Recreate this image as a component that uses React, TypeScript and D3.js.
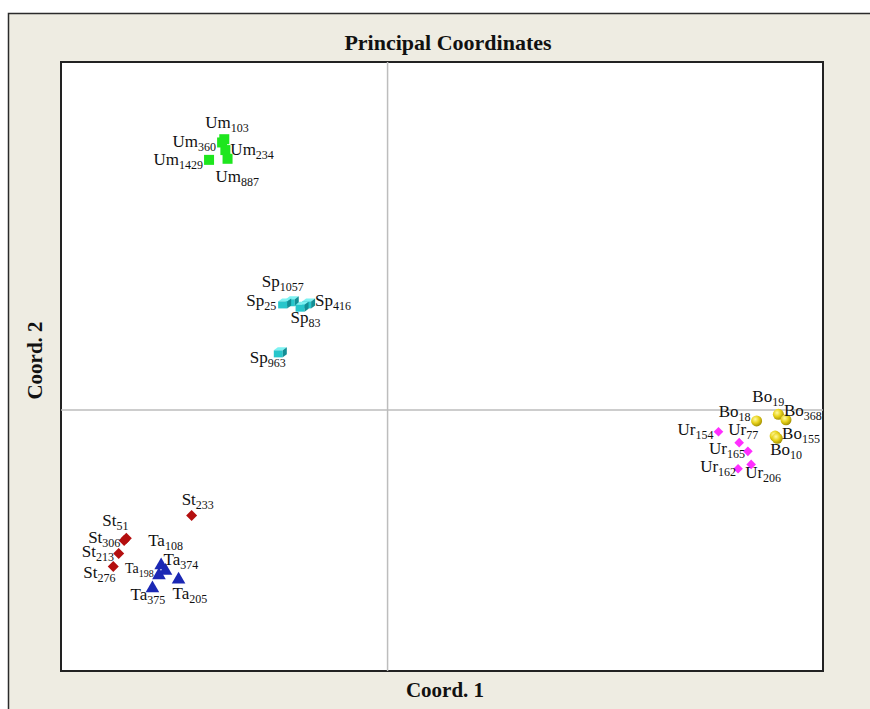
import * as d3 from "d3";

// sample names, in the order they are listed
const sampleNames = [
  "Um103", "Um360", "Um234", "Um1429", "Um887",
  "Sp1057", "Sp25", "Sp416", "Sp83", "Sp963",
  "Bo19", "Bo18", "Bo368", "Bo155", "Bo10",
  "Ur154", "Ur77", "Ur165", "Ur162", "Ur206",
  "St233", "St51", "St306", "St213", "St276",
  "Ta108", "Ta374", "Ta198", "Ta205", "Ta375",
];

// Coord. 1 (x)
const coord1 = [
  -0.150, -0.152, -0.149, -0.164, -0.147,
  -0.088, -0.095, -0.073, -0.079, -0.099,
  0.359, 0.339, 0.366, 0.356, 0.358,
  0.304, 0.323, 0.331, 0.322, 0.334,
  -0.180, -0.240, -0.242, -0.247, -0.252,
  -0.208, -0.204, -0.210, -0.192, -0.216,
];

// Coord. 2 (y)
const coord2 = [
  0.249, 0.246, 0.239, 0.230, 0.231,
  0.100, 0.098, 0.098, 0.095, 0.053,
  -0.004, -0.010, -0.009, -0.024, -0.026,
  -0.020, -0.030, -0.038, -0.054, -0.050,
  -0.097, -0.118, -0.120, -0.132, -0.144,
  -0.142, -0.147, -0.151, -0.155, -0.163,
];

const groups = ["Um", "Sp", "Bo", "Ur", "St", "Ta"];

// label offsets from the marker in px: dx, dy, anchor
const labelPlace: Record<string, [number, number, string]> = {
  Um103: [-19, -11, "start"],
  Um360: [-6, 5, "end"],
  Um234: [5, 5, "start"],
  Um1429: [-6, 5, "end"],
  Um887: [-12, 23, "start"],
  Sp1057: [-30, -14, "start"],
  Sp25: [-8, 3, "end"],
  Sp416: [7, 3, "start"],
  Sp83: [-11, 16, "start"],
  Sp963: [-30, 11, "start"],
  Bo19: [-26, -12, "start"],
  Bo18: [-6, -4, "end"],
  Bo368: [-2, -4, "start"],
  Bo155: [7, 3, "start"],
  Bo10: [-7, 17, "start"],
  Ur154: [-5, 3, "end"],
  Ur77: [-11, -8, "start"],
  Ur165: [-3, 3, "end"],
  Ur162: [-2, 3, "end"],
  Ur206: [-6, 14, "start"],
  St233: [-10, -10, "start"],
  St51: [-24, -12, "start"],
  St306: [-36, 2, "start"],
  St213: [-37, 3, "start"],
  St276: [-30, 11, "start"],
  Ta108: [-13, -18, "start"],
  Ta374: [-2, -5, "start"],
  Ta198: [-34, -1, "start"],
  Ta205: [-6, 20, "start"],
  Ta375: [-22, 13, "start"],
};

const W = 870;
const H = 709;
const plot = { left: 61, top: 62, right: 823, bottom: 671 };
const serif = "'Liberation Serif', 'Times New Roman', serif";

const rhombus = (r: number) => `M0,${-r}L${r},0L0,${r}L${-r},0Z`;

export default function App() {
  const x = d3.scaleLinear().domain([-0.3, 0.4]).range([plot.left, plot.right]);
  const y = d3.scaleLinear().domain([-0.24, 0.32]).range([plot.bottom, plot.top]);

  const data = sampleNames.map((name, i) => ({
    name,
    group: name.slice(0, 2),
    px: x(coord1[i]),
    py: y(coord2[i]),
  }));

  const triangle = d3.symbol().type(d3.symbolTriangle).size(80);

  const marker = (d: any) => {
    const t = `translate(${d.px},${d.py})`;
    switch (d.group) {
      case "Um":
        return <rect x={d.px - 5} y={d.py - 5} width={10} height={10} fill="#1EE61E" />;
      case "Sp":
        return (
          <g transform={t}>
            <path d="M-6,-2L-2,-5L7,-5L3,-2Z" fill="#7DF2F2" />
            <rect x={-6} y={-2} width={9} height={7} fill="#27C6CB" />
            <path d="M3,-2L7,-5L7,2L3,5Z" fill="#138E95" />
          </g>
        );
      case "Bo":
        return <circle cx={d.px} cy={d.py} r={5.5} fill="url(#boGrad)" />;
      case "Ur":
        return <path transform={t} d={rhombus(4.8)} fill="#FF2EFF" />;
      case "St":
        return <path transform={t} d={rhombus(5.5)} fill="#B40F0F" />;
      case "Ta":
        return <path transform={`${t} translate(0,1)`} d={triangle()!} fill="#1B28B4" />;
    }
    return null;
  };

  const label = (d: any) => {
    const [dx, dy, anchor] = labelPlace[d.name];
    const m = d.name.match(/^([A-Za-z]+)(\d+)$/);
    const small = d.name === "Ta198";
    return (
      <text
        key={"l" + d.name}
        x={d.px + dx}
        y={d.py + dy}
        textAnchor={anchor}
        fontFamily={serif}
        fontSize={small ? 14 : 17}
        fill="#111"
      >
        {m[1]}
        <tspan fontSize={small ? 10 : 12} dy={4}>
          {m[2]}
        </tspan>
      </text>
    );
  };

  const ordered = groups.flatMap((g) => data.filter((d) => d.group === g));

  return (
    <div style={{ position: "absolute", left: 0, top: 0 }}>
      <svg width={W} height={H} style={{ display: "block" }}>
        <defs>
          <radialGradient id="boGrad" cx="0.38" cy="0.35" r="0.7">
            <stop offset="0" stopColor="#FFF9A0" />
            <stop offset="0.5" stopColor="#E8D21A" />
            <stop offset="1" stopColor="#9C8A00" />
          </radialGradient>
        </defs>
        <rect x={0} y={0} width={W} height={H} fill="#FFFFFF" />
        <rect x={8.5} y={13.5} width={W + 20} height={H + 20} fill="#EEECE2" stroke="#2B2B2B" strokeWidth={1.5} />
        <rect
          x={plot.left}
          y={plot.top}
          width={plot.right - plot.left}
          height={plot.bottom - plot.top}
          fill="#FFFFFF"
          stroke="#222"
          strokeWidth={2}
        />
        <line x1={x(0)} x2={x(0)} y1={plot.top} y2={plot.bottom} stroke="#BDBDBD" strokeWidth={1.5} />
        <line x1={plot.left} x2={plot.right} y1={y(0)} y2={y(0)} stroke="#BDBDBD" strokeWidth={1.5} />

        {ordered.map((d) => (
          <g key={d.name}>{marker(d)}</g>
        ))}
        {ordered.map(label)}

        <text x={448} y={50} textAnchor="middle" fontFamily={serif} fontWeight="bold" fontSize={22} fill="#111">
          Principal Coordinates
        </text>
        <text x={445} y={697} textAnchor="middle" fontFamily={serif} fontWeight="bold" fontSize={21} fill="#111">
          Coord. 1
        </text>
        <text
          transform={`translate(42,${(plot.top + plot.bottom) / 2 - 6}) rotate(-90)`}
          textAnchor="middle"
          fontFamily={serif}
          fontWeight="bold"
          fontSize={21}
          fill="#111"
        >
          Coord. 2
        </text>
      </svg>
    </div>
  );
}
